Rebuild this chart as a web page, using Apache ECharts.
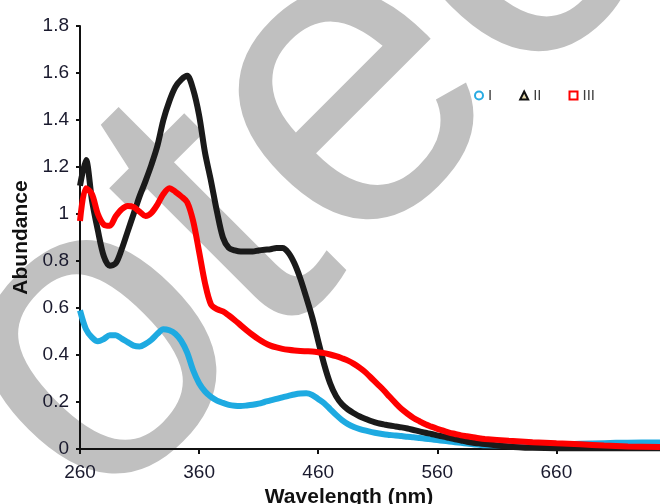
<!DOCTYPE html>
<html>
<head>
<meta charset="utf-8">
<script src="https://cdn.jsdelivr.net/npm/echarts@6/dist/echarts.min.js"></script>
<style>html,body{margin:0;padding:0;background:#fff}#c{width:660px;height:504px}</style>
</head>
<body>
<div id="c"></div>
<script>
var wavelengths = [260,265,270,275,280,285,290,295,300,305,
  310,315,320,325,330,335,340,345,350,355,
  360,365,370,375,380,385,390,395,400,405,
  410,415,420,425,430,435,440,445,450,455,
  460,465,470,475,480,485,490,495,500,505,
  510,515,520,525,530,535,540,545,550,555,
  560,565,570,575,580,585,590,595,600,
  620,640,660,680,700,720,747];

var seriesI = [0.59,0.51,0.475,0.458,0.468,0.484,0.484,0.47,0.455,0.44,
  0.436,0.447,0.465,0.49,0.51,0.505,0.49,0.46,0.41,0.335,
  0.28,0.245,0.222,0.206,0.196,0.188,0.184,0.183,0.185,0.188,
  0.193,0.2,0.207,0.213,0.22,0.226,0.232,0.236,0.237,0.23,
  0.213,0.195,0.17,0.145,0.123,0.106,0.094,0.085,0.078,0.072,
  0.067,0.063,0.06,0.057,0.055,0.052,0.05,0.047,0.044,0.041,
  0.038,0.035,0.032,0.029,0.026,0.023,0.02,0.018,0.016,
  0.015,0.017,0.019,0.022,0.025,0.027,0.028];

var seriesII = [1.12,1.23,1.06,0.93,0.82,0.78,0.79,0.85,0.925,1.0,
  1.075,1.14,1.21,1.29,1.4,1.48,1.54,1.572,1.588,1.53,
  1.42,1.26,1.14,1.01,0.9,0.855,0.845,0.84,0.84,0.84,
  0.845,0.848,0.85,0.855,0.855,0.835,0.79,0.725,0.645,0.56,
  0.46,0.36,0.28,0.225,0.19,0.168,0.152,0.138,0.128,0.118,
  0.11,0.105,0.1,0.096,0.092,0.087,0.081,0.075,0.069,0.064,
  0.058,0.053,0.047,0.041,0.036,0.031,0.027,0.024,0.021,
  0.01,0.005,0.003,0.003,0.003,0.003,0.003];

var seriesIII = [0.97,1.11,1.085,1.0,0.955,0.95,0.99,1.02,1.034,1.03,
  1.01,0.992,1.005,1.04,1.085,1.11,1.095,1.075,1.05,0.97,
  0.84,0.705,0.615,0.595,0.586,0.568,0.548,0.526,0.505,0.485,
  0.467,0.452,0.44,0.432,0.426,0.422,0.419,0.417,0.416,0.415,
  0.412,0.408,0.402,0.395,0.386,0.376,0.362,0.345,0.325,0.3,
  0.275,0.25,0.222,0.195,0.17,0.15,0.132,0.118,0.105,0.095,
  0.086,0.078,0.07,0.064,0.058,0.054,0.05,0.046,0.043,
  0.035,0.029,0.024,0.02,0.015,0.011,0.008];

var seriesNames = ['I','II','III'];
var xTitle = 'Wavelength (nm)';
var yTitle = 'Abundance';
var watermarkText = 'Protected';

function pairs(vals){
  return wavelengths.map(function(w,i){ return [w, vals[i]]; });
}

var FONT = "'Liberation Sans', Arial, sans-serif";
var chart = echarts.init(document.getElementById('c'), null, {renderer:'canvas'});
chart.setOption({
  animation: false,
  backgroundColor: '#fff',
  grid: {left: 80, right: 0, top: 26, bottom: 55, containLabel: false, outerBoundsMode: 'none'},
  legend: {
    left: 469, top: 83, itemWidth: 8, itemHeight: 8, itemGap: 27,
    textStyle: {color: '#404040', fontSize: 15, fontFamily: FONT},
    data: [
      {name: 'I', icon: 'circle', itemStyle: {color: '#fff', borderColor: '#29abe2', borderWidth: 2}},
      {name: 'II', icon: 'triangle', itemStyle: {color: '#e8dcb0', borderColor: '#111', borderWidth: 2}},
      {name: 'III', icon: 'rect', itemStyle: {color: '#fff', borderColor: '#ff0000', borderWidth: 2}}
    ]
  },
  xAxis: {
    type: 'value', min: 260, max: 747, interval: 100,
    name: xTitle, nameLocation: 'middle', nameGap: 38,
    nameTextStyle: {fontSize: 21, fontWeight: 'bold', color: '#111', fontFamily: FONT, padding: [0, 42, 0, 0]},
    axisLine: {show: true, lineStyle: {color: '#111', width: 2}},
    axisTick: {show: true, length: 5, lineStyle: {color: '#111', width: 2}},
    axisLabel: {showMaxLabel: false, margin: 14, fontSize: 19, color: '#1a1a2e', fontFamily: FONT},
    splitLine: {show: false}
  },
  yAxis: {
    type: 'value', min: 0, max: 1.8, interval: 0.2,
    name: yTitle, nameLocation: 'middle', nameGap: 47,
    nameTextStyle: {fontSize: 21, fontWeight: 'bold', color: '#111', fontFamily: FONT},
    axisLine: {show: true, lineStyle: {color: '#111', width: 2}},
    axisTick: {show: true, length: 4, lineStyle: {color: '#111', width: 2}},
    axisLabel: {margin: 11, fontSize: 19, color: '#1a1a2e', fontFamily: FONT},
    splitLine: {show: false}
  },
  series: [
    {name: seriesNames[0], type: 'line', data: pairs(seriesI), smooth: 0.3, showSymbol: false,
     color: '#29abe2', lineStyle: {width: 6, color: '#1eaae1'}, z: 2},
    {name: seriesNames[1], type: 'line', data: pairs(seriesII), smooth: 0.3, showSymbol: false,
     color: '#1a1a1a', lineStyle: {width: 6, color: '#1a1a1a'}, z: 3},
    {name: seriesNames[2], type: 'line', data: pairs(seriesIII), smooth: 0.3, showSymbol: false,
     color: '#ff0000', lineStyle: {width: 6, color: '#ff0000'}, z: 4}
  ],
  graphic: [{
    type: 'text', silent: true, z: -10,
    x: 359, y: 92, rotation: Math.PI / 4,
    style: {
      text: watermarkText, font: "430px 'Liberation Sans'", fill: '#c0c0c0',
      align: 'center', verticalAlign: 'middle'
    }
  }]
});
</script>
</body>
</html>
